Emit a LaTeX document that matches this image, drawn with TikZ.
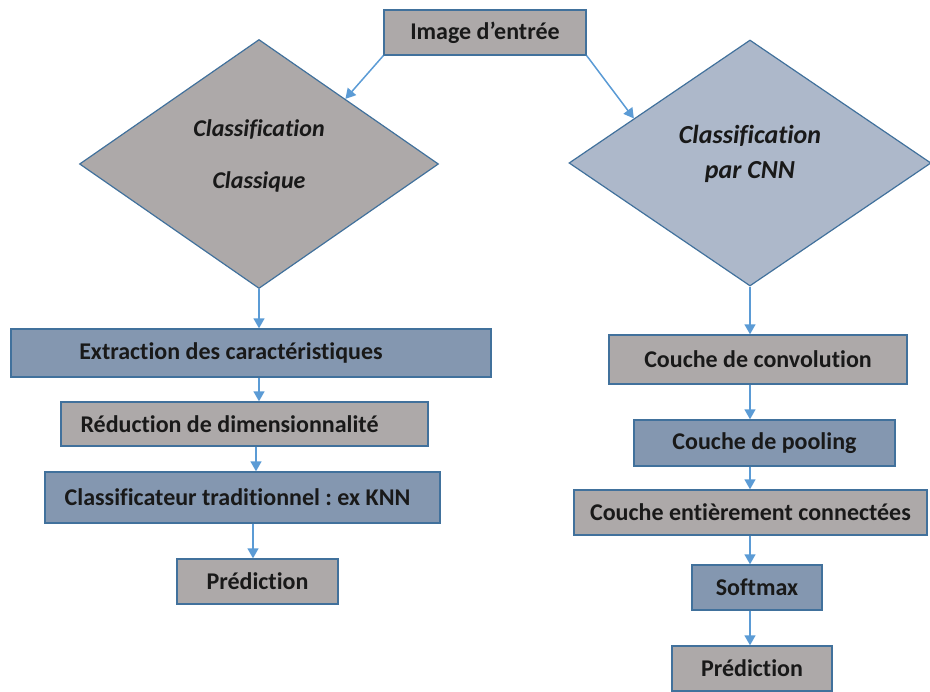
\documentclass[tikz,border=0pt]{standalone}
\usepackage{fontspec}
\setmainfont[Ligatures={NoCommon,NoContextual,NoRare},Contextuals=NoAlternate]{Carlito}
\frenchspacing
\usetikzlibrary{shapes.geometric,arrows.meta}
\definecolor{boxgrey}{HTML}{ADA9A9}
\definecolor{boxblue}{HTML}{8497B0}
\definecolor{diablue}{HTML}{ADB8CA}
\definecolor{edge}{HTML}{41719C}
\definecolor{flow}{HTML}{5B9BD5}
\begin{document}
\begin{tikzpicture}[x=1pt,y=-1pt,
  box/.style={draw=edge, line width=1.4pt, rectangle, inner sep=0pt,
    font=\bfseries\fontsize{24}{28}\selectfont, text=black!90},
  greybox/.style={box, fill=boxgrey},
  bluebox/.style={box, fill=boxblue},
  decision/.style={diamond, draw=edge, line width=1.2pt, inner sep=0pt},
  flowarrow/.style={draw=flow, line width=1.5pt, -{Triangle[length=10pt,width=11pt]}}
]
\useasboundingbox (0,0) rectangle (930,692);

% entry point
\node[greybox, minimum width=202pt, minimum height=45pt] (img) at (485,32.5) {Image d’entrée};

% the two branches
\node[decision, fill=boxgrey, minimum width=359pt, minimum height=249pt,
  label={[yshift=8pt, align=center, text=black!90, font=\bfseries\itshape\fontsize{24}{52}\selectfont]center:Classification\\Classique}] (cl) at (259,164) {};
\node[decision, fill=diablue, minimum width=362pt, minimum height=246pt,
  label={[yshift=9pt, align=center, text=black!90, font=\bfseries\itshape\fontsize{26}{35}\selectfont]center:Classification\\par CNN}] (cnn) at (750,163) {};

% classical pipeline
\node[bluebox, minimum width=480pt, minimum height=48pt] (ext) at (251,353) {\hspace*{-40pt}Extraction des caractéristiques};
\node[greybox, minimum width=367pt, minimum height=44pt] (red) at (244.5,424) {\hspace*{-30pt}Réduction de dimensionnalité};
\node[bluebox, minimum width=395pt, minimum height=51pt] (knn) at (242.5,497.5) {\hspace*{-10pt}Classificateur traditionnel : ex KNN};
\node[greybox, minimum width=161pt, minimum height=45pt] (predl) at (257.5,581.5) {Prédiction};

% CNN pipeline
\node[greybox, minimum width=298pt, minimum height=49pt] (conv) at (758,359.5) {Couche de convolution};
\node[bluebox, minimum width=261pt, minimum height=46pt] (pool) at (764.5,443) {Couche de pooling};
\node[greybox, minimum width=353pt, minimum height=45pt] (fc) at (750.5,512.5) {Couche entièrement connectées};
\node[bluebox, minimum width=130pt, minimum height=45pt] (soft) at (757,587.5) {Softmax};
\node[greybox, minimum width=160pt, minimum height=45pt] (predr) at (752,668.5) {Prédiction};

% connectors
\draw[flowarrow] (img.south west) -- (cl.37);
\draw[flowarrow] (img.south east) -- (cnn.159);

\draw[flowarrow] (cl.south) -- (ext.north -| cl.south);
\draw[flowarrow] (ext.south -| cl.south) -- (red.north -| cl.south);
\draw[flowarrow] ([xshift=-3pt]red.south -| cl.south) -- ([xshift=-3pt]knn.north -| cl.south);
\draw[flowarrow] ([xshift=-6pt]knn.south -| cl.south) -- ([xshift=-6pt]predl.north -| cl.south);

\draw[flowarrow] (cnn.south) -- (conv.north -| cnn.south);
\draw[flowarrow] (conv.south -| cnn.south) -- (pool.north -| cnn.south);
\draw[flowarrow] (pool.south -| cnn.south) -- (fc.north -| cnn.south);
\draw[flowarrow] (fc.south -| cnn.south) -- (soft.north -| cnn.south);
\draw[flowarrow] (soft.south -| cnn.south) -- (predr.north -| cnn.south);
\end{tikzpicture}
\end{document}
